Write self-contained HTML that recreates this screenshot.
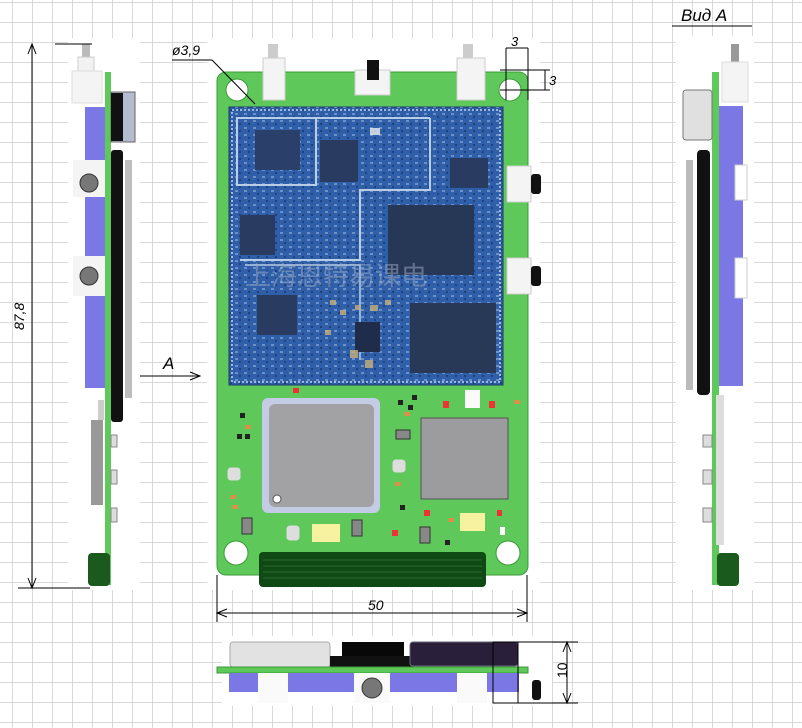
<!DOCTYPE html>
<html><head><meta charset="utf-8"><style>
html,body{margin:0;padding:0}
body{width:802px;height:728px;overflow:hidden;background:#fff;
background-image:linear-gradient(#d9d9d9 1px,transparent 1px),linear-gradient(90deg,#d9d9d9 1px,transparent 1px);
background-size:20px 20px;background-position:12px 2px;font-family:"Liberation Sans","DejaVu Sans",sans-serif;}
svg{position:absolute;left:0;top:0}
</style></head><body>
<svg width="802" height="728" viewBox="0 0 802 728" xmlns="http://www.w3.org/2000/svg">
<defs>
<pattern id="comp" width="9" height="7" patternUnits="userSpaceOnUse">
<rect x="1" y="1" width="3" height="2" fill="#9fb8e0" opacity="0.55"/>
<rect x="5" y="4" width="2" height="2" fill="#1c3466" opacity="0.7"/>
</pattern>
</defs>
<!-- white image backgrounds -->
<rect x="68" y="38" width="72" height="552" fill="#fff"/>
<rect x="207" y="38" width="333" height="552" fill="#fff"/>
<rect x="676" y="36" width="78" height="554" fill="#fff"/>
<rect x="222" y="636" width="330" height="70" fill="#fff"/>

<!-- MAIN BOARD -->
<rect x="217" y="72" width="311" height="503" rx="9" fill="#5ec85a" stroke="#3c9a3a"/>
<circle cx="237" cy="90" r="11" fill="#fff" stroke="#3c9a3a"/>
<circle cx="510" cy="90" r="11" fill="#fff" stroke="#3c9a3a"/>
<circle cx="236" cy="553" r="12" fill="#fff" stroke="#3c9a3a"/>
<circle cx="508" cy="553" r="12" fill="#fff" stroke="#3c9a3a"/>
<!-- top connectors -->
<rect x="268" y="44" width="10" height="14" fill="#ccc"/>
<rect x="263" y="58" width="22" height="42" fill="#f4f4f4" stroke="#ccc"/>
<rect x="463" y="44" width="10" height="14" fill="#ccc"/>
<rect x="457" y="58" width="28" height="42" fill="#f4f4f4" stroke="#ccc"/>
<rect x="355" y="70" width="35" height="25" fill="#f4f4f4" stroke="#ccc"/>
<rect x="367" y="60" width="12" height="20" fill="#111"/>
<!-- right connectors -->
<rect x="507" y="166" width="24" height="36" fill="#f4f4f4" stroke="#ccc"/>
<rect x="531" y="174" width="10" height="20" rx="3" fill="#111"/>
<rect x="507" y="258" width="24" height="36" fill="#f4f4f4" stroke="#ccc"/>
<rect x="531" y="266" width="10" height="20" rx="3" fill="#111"/>

<!-- SOM module -->
<rect x="229" y="107" width="274" height="278" fill="#2f5fa8" stroke="#1c3a70"/>
<rect x="229" y="107" width="274" height="278" fill="url(#comp)"/>
<rect x="232" y="110" width="268" height="272" fill="none" stroke="#9db8dc" stroke-width="2" stroke-dasharray="2 2"/>
<path d="M237 118 H316 V185 H237 Z M316 118 H430 M430 118 V190 H360 V260 H240" fill="none" stroke="#b9cde6" stroke-width="2"/>
<path d="M245 265 H360 V360" fill="none" stroke="#b9cde6" stroke-width="1.5"/>
<rect x="255" y="130" width="45" height="40" fill="#2a3f6a"/>
<rect x="320" y="140" width="38" height="42" fill="#2a3b62"/>
<rect x="450" y="158" width="38" height="30" fill="#2a3b62"/>
<rect x="388" y="205" width="86" height="70" fill="#273756"/>
<rect x="240" y="215" width="35" height="40" fill="#2a3b62"/>
<rect x="410" y="303" width="86" height="70" fill="#283957"/>
<rect x="257" y="295" width="40" height="40" fill="#2a3b62"/>
<rect x="355" y="322" width="25" height="30" fill="#1f2d4a"/>
<g fill="#c8b07a" opacity="0.8">
<rect x="330" y="300" width="6" height="5"/><rect x="340" y="310" width="6" height="5"/><rect x="355" y="305" width="6" height="5"/><rect x="325" y="330" width="6" height="5"/><rect x="370" y="305" width="8" height="6"/><rect x="385" y="300" width="6" height="5"/><rect x="350" y="350" width="8" height="8"/><rect x="365" y="360" width="8" height="8"/><rect x="370" y="128" width="10" height="7" fill="#eee"/>
</g>
<text x="245" y="285" font-size="26" fill="#9fb0c8" opacity="0.5" font-family="Noto Sans CJK SC,sans-serif">上海恩特易课电</text>

<!-- lower area chips -->
<rect x="262" y="398" width="118" height="115" rx="6" fill="#c4cbe4"/>
<rect x="269" y="404" width="105" height="103" rx="6" fill="#a2a2a4"/>
<circle cx="277" cy="499" r="4" fill="#fff" stroke="#555"/>
<rect x="421" y="418" width="87" height="81" fill="#9c9c9e" stroke="#555"/>
<rect x="465" y="390" width="15" height="18" fill="#fafafa"/>
<rect x="312" y="524" width="28" height="18" fill="#f7f2a0"/>
<rect x="460" y="513" width="25" height="18" fill="#f7f2a0"/>
<rect x="396" y="430" width="14" height="9" fill="#888" stroke="#333"/>
<g fill="#888" stroke="#333">
<rect x="242" y="518" width="10" height="16"/><rect x="352" y="520" width="10" height="16"/><rect x="420" y="527" width="10" height="16"/>
</g>
<g fill="#ddd" stroke="#ddd"><rect x="228" y="468" width="12" height="12" rx="3"/><rect x="393" y="460" width="12" height="12" rx="3"/><rect x="287" y="526" width="12" height="14" rx="3"/></g>
<g fill="#e33"><rect x="293" y="388" width="6" height="5"/><rect x="443" y="401" width="6" height="7"/><rect x="489" y="401" width="6" height="7"/><rect x="424" y="510" width="6" height="6"/><rect x="392" y="530" width="6" height="6"/><rect x="497" y="510" width="5" height="6"/></g>
<g fill="#222"><rect x="240" y="413" width="5" height="5"/><rect x="237" y="434" width="5" height="5"/><rect x="245" y="434" width="5" height="5"/><rect x="398" y="400" width="5" height="5"/><rect x="412" y="395" width="5" height="5"/><rect x="408" y="405" width="5" height="5"/><rect x="445" y="540" width="5" height="5"/><rect x="400" y="505" width="5" height="5"/><rect x="500" y="527" width="5" height="8" fill="#fff"/></g>
<g fill="#d7924a"><rect x="245" y="425" width="6" height="4"/><rect x="230" y="495" width="6" height="4"/><rect x="232" y="505" width="6" height="4"/><rect x="404" y="412" width="6" height="4"/><rect x="395" y="482" width="6" height="4"/><rect x="448" y="518" width="6" height="4"/><rect x="514" y="400" width="6" height="4"/></g>
<!-- bottom connector -->
<rect x="259" y="552" width="227" height="35" rx="4" fill="#0f4a14"/>
<g stroke="#2a6a2e" stroke-width="1"><line x1="263" y1="560" x2="482" y2="560"/><line x1="263" y1="566" x2="482" y2="566"/><line x1="263" y1="572" x2="482" y2="572"/><line x1="263" y1="578" x2="482" y2="578"/></g>

<!-- dims main -->
<g stroke="#000" stroke-width="1" fill="none">
<line x1="217" y1="575" x2="217" y2="622"/><line x1="527" y1="575" x2="527" y2="622"/>
<line x1="217" y1="613" x2="527" y2="613"/>
<path d="M227 609 L217 613 L227 617 M517 609 L527 613 L517 617"/>
<line x1="172" y1="60" x2="212" y2="60"/><line x1="212" y1="60" x2="255" y2="104"/>
<line x1="506" y1="48" x2="528" y2="48"/><line x1="506" y1="48" x2="506" y2="100"/><line x1="528" y1="48" x2="528" y2="100"/>
<line x1="500" y1="70" x2="550" y2="70"/><line x1="500" y1="90" x2="550" y2="90"/><line x1="545" y1="70" x2="545" y2="90"/>
</g>
<text x="368" y="610" font-size="14" font-style="italic">50</text>
<text x="172" y="55" font-size="14" font-style="italic">ø3,9</text>
<text x="511" y="46" font-size="13" font-style="italic">3</text>
<text x="549" y="85" font-size="13" font-style="italic">3</text>

<!-- LEFT VIEW -->
<rect x="82" y="44" width="8" height="16" fill="#bbb"/>
<rect x="78" y="57" width="16" height="14" fill="#f2f2f2" stroke="#ccc"/>
<rect x="72" y="71" width="30" height="32" fill="#f4f4f4" stroke="#ddd"/>
<rect x="85" y="107" width="20" height="281" fill="#7b78e6"/>
<rect x="105" y="72" width="6" height="513" fill="#5ec85a"/>
<rect x="111" y="92" width="24" height="50" fill="#b4bcd0" stroke="#666"/>
<rect x="111" y="93" width="12" height="48" fill="#111"/>
<rect x="111" y="150" width="12" height="272" rx="3" fill="#111"/>
<rect x="125" y="160" width="7" height="238" fill="#bdbdbd"/>
<rect x="73" y="160" width="32" height="37" fill="#f4f4f4"/>
<circle cx="89" cy="183" r="9" fill="#777" stroke="#333"/>
<rect x="73" y="256" width="32" height="40" fill="#f4f4f4"/>
<circle cx="89" cy="276" r="9" fill="#777" stroke="#333"/>
<rect x="91" y="420" width="12" height="85" fill="#999"/>
<rect x="98" y="400" width="6" height="20" fill="#ccc"/>
<rect x="111" y="435" width="6" height="12" fill="#ddd" stroke="#888"/>
<rect x="111" y="470" width="6" height="14" fill="#ddd" stroke="#888"/>
<rect x="111" y="508" width="6" height="14" fill="#ddd" stroke="#888"/>
<rect x="88" y="553" width="22" height="33" rx="4" fill="#1a5a1c"/>
<g stroke="#000" fill="none">
<line x1="55" y1="44" x2="92" y2="44"/><line x1="18" y1="588" x2="90" y2="588"/>
<line x1="32" y1="44" x2="32" y2="588"/>
<path d="M28 54 L32 44 L36 54 M28 578 L32 588 L36 578"/>
<line x1="140" y1="376" x2="200" y2="376"/><path d="M190 372 L200 376 L190 380"/>
</g>
<text transform="translate(24,330) rotate(-90)" font-size="14" font-style="italic">87,8</text>
<text x="163" y="369" font-size="17" font-style="italic">A</text>

<!-- RIGHT VIEW -->
<text x="681" y="21" font-size="17" font-style="italic">Вид А</text>
<line x1="672" y1="26" x2="752" y2="26" stroke="#000"/>
<rect x="731" y="44" width="8" height="18" fill="#999"/>
<rect x="722" y="62" width="26" height="40" fill="#f4f4f4" stroke="#ddd"/>
<rect x="712" y="72" width="7" height="513" fill="#5ec85a"/>
<rect x="719" y="106" width="24" height="280" fill="#7b78e6"/>
<rect x="683" y="90" width="29" height="50" rx="3" fill="#e0e0e0" stroke="#777"/>
<rect x="697" y="150" width="13" height="245" rx="4" fill="#111"/>
<rect x="686" y="160" width="7" height="230" fill="#bbb"/>
<rect x="735" y="165" width="12" height="35" fill="#fff" stroke="#ccc"/>
<rect x="735" y="258" width="12" height="40" fill="#fff" stroke="#ccc"/>
<rect x="716" y="395" width="8" height="150" fill="#ddd"/>
<rect x="703" y="435" width="9" height="12" fill="#ddd" stroke="#888"/>
<rect x="703" y="470" width="9" height="14" fill="#ddd" stroke="#888"/>
<rect x="703" y="508" width="9" height="14" fill="#ddd" stroke="#888"/>
<rect x="717" y="553" width="22" height="33" rx="4" fill="#1a5a1c"/>

<!-- BOTTOM VIEW -->
<rect x="230" y="642" width="100" height="25" rx="3" fill="#e2e2e2" stroke="#aaa"/>
<rect x="342" y="642" width="62" height="26" fill="#080808"/>
<rect x="330" y="656" width="165" height="12" fill="#111"/>
<rect x="410" y="642" width="108" height="24" rx="3" fill="#2a1f3a" stroke="#667"/>
<rect x="217" y="667" width="311" height="6" fill="#5ec85a" stroke="#3c9a3a"/>
<rect x="229" y="673" width="290" height="19" fill="#7b78e6"/>
<rect x="258" y="673" width="30" height="30" fill="#fafafa"/>
<rect x="354" y="673" width="36" height="30" fill="#fafafa"/>
<circle cx="372" cy="688" r="10" fill="#777" stroke="#333"/>
<rect x="457" y="673" width="30" height="30" fill="#fafafa"/>
<rect x="532" y="680" width="9" height="20" rx="3" fill="#111"/>
<g stroke="#000" fill="none">
<rect x="493" y="642" width="25" height="61"/>
<line x1="518" y1="642" x2="578" y2="642"/><line x1="518" y1="703" x2="578" y2="703"/>
<line x1="567" y1="642" x2="567" y2="703"/>
<path d="M563 652 L567 642 L571 652 M563 693 L567 703 L571 693"/>
</g>
<text transform="translate(567,678) rotate(-90)" font-size="14">10</text>
</svg>
</body></html>
